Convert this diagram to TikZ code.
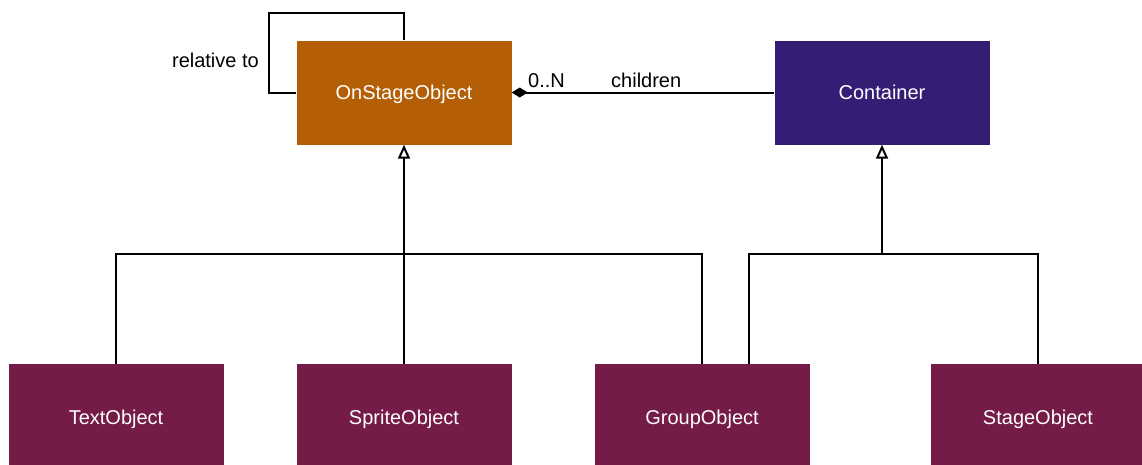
\documentclass[tikz,border=0pt]{standalone}
\usepackage{fontspec}
\setmainfont{Liberation Sans}
\usetikzlibrary{arrows.meta}
\definecolor{darkorange}{HTML}{B45F06}
\definecolor{darkpurple}{HTML}{351C75}
\definecolor{darkmagenta}{HTML}{741B47}
\tikzset{
  classbox/.style={rectangle, inner sep=0pt, minimum width=215pt, text=white,
    font=\fontsize{20}{24}\selectfont, text height=14.3pt, text depth=0pt},
  wire/.style={draw=black, line width=2pt},
  inherit/.style={wire, -{Triangle[open, length=14pt, width=12pt, line width=2pt]}},
  compose/.style={wire, -{Diamond[length=16pt, width=10pt]}},
  lbl/.style={font=\fontsize{20}{24}\selectfont, inner sep=0pt}
}
\begin{document}
\begin{tikzpicture}[x=1pt, y=-1pt]
  \useasboundingbox (0,0) rectangle (1142,464);

  % classes
  \node[classbox, fill=darkorange, minimum height=104pt] (osobj) at (404,92.5) {OnStageObject};
  \node[classbox, fill=darkpurple, minimum height=104pt] (cont) at (882,92.5) {Container};
  \node[classbox, fill=darkmagenta, minimum height=106pt] (textobj) at (116,417) {TextObject};
  \node[classbox, fill=darkmagenta, minimum height=106pt] (sprite) at (404,417) {SpriteObject};
  \node[classbox, fill=darkmagenta, minimum height=106pt] (group) at (702,417) {GroupObject};
  \node[classbox, fill=darkmagenta, minimum height=106pt] (stage) at (1038,417) {StageObject};

  % self association
  \draw[wire] (osobj.west) -- ++(-27,0) |- ([yshift=27.5pt]osobj.north) -- (osobj.north);
  \node[lbl, anchor=base east] (rel) at (259,67) {relative to};

  % composition
  \draw[compose] (cont.west) -- (osobj.east);
  \node[lbl, anchor=base west] (mult) at (528,87) {0..N};
  \node[lbl, anchor=base west] (role) at (611,87) {children};

  % generalisation to OnStageObject
  \coordinate (j1) at (404,254);
  \draw[inherit] (j1) -- (osobj.south);
  \draw[wire] (sprite.north) -- (j1);
  \draw[wire] (textobj.north) |- (group.north |- j1) -- (group.north);

  % generalisation to Container
  \coordinate (j2) at (882,254);
  \draw[inherit] (j2) -- (cont.south);
  \draw[wire] ([xshift=47pt]group.north) |- (stage.north |- j2) -- (stage.north);
\end{tikzpicture}
\end{document}
